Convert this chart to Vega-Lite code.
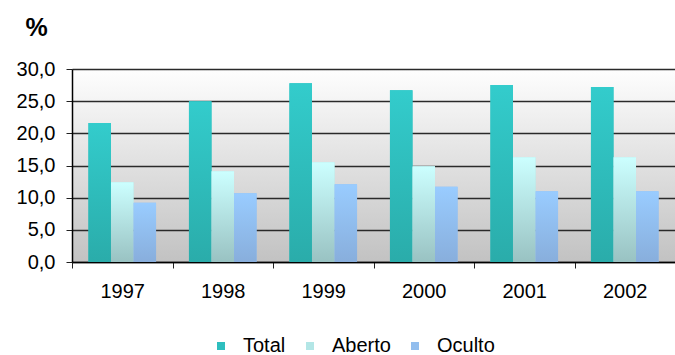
{
  "$schema": "https://vega.github.io/schema/vega-lite/v6.json",
  "width": 603,
  "height": 193,
  "autosize": {"type": "none"},
  "padding": {"left": 72, "top": 69, "right": 0, "bottom": 93},
  "background": "white",
  "config": {
    "font": "Liberation Sans",
    "view": {
      "stroke": null,
      "fill": {"gradient": "linear", "x1": 0, "y1": 0, "x2": 0, "y2": 1,
        "stops": [{"offset": 0, "color": "#FEFEFE"}, {"offset": 1, "color": "#C2C2C2"}]}
    }
  },
  "data": {
    "values": [
      {"year": "1997", "series": "Total", "value": 21.6},
      {"year": "1997", "series": "Aberto", "value": 12.4},
      {"year": "1997", "series": "Oculto", "value": 9.2},
      {"year": "1998", "series": "Total", "value": 25.0},
      {"year": "1998", "series": "Aberto", "value": 14.1},
      {"year": "1998", "series": "Oculto", "value": 10.7},
      {"year": "1999", "series": "Total", "value": 27.8},
      {"year": "1999", "series": "Aberto", "value": 15.5},
      {"year": "1999", "series": "Oculto", "value": 12.1},
      {"year": "2000", "series": "Total", "value": 26.7},
      {"year": "2000", "series": "Aberto", "value": 14.9},
      {"year": "2000", "series": "Oculto", "value": 11.7},
      {"year": "2001", "series": "Total", "value": 27.5},
      {"year": "2001", "series": "Aberto", "value": 16.3},
      {"year": "2001", "series": "Oculto", "value": 11.0},
      {"year": "2002", "series": "Total", "value": 27.2},
      {"year": "2002", "series": "Aberto", "value": 16.3},
      {"year": "2002", "series": "Oculto", "value": 11.0}
    ]
  },
  "encoding": {
    "x": {
      "field": "year", "type": "nominal",
      "scale": {"paddingInner": 0, "paddingOuter": 0},
      "axis": {
        "title": null, "labelAngle": 0, "labelFontSize": 20, "labelColor": "black",
        "domainColor": "black", "domainWidth": 1.5, "tickColor": "#222", "tickSize": 6,
        "tickBand": "extent", "labelPadding": 13, "grid": false
      }
    },
    "xOffset": {
      "field": "series", "type": "nominal", "sort": ["Total", "Aberto", "Oculto"],
      "scale": {"paddingInner": 0, "paddingOuter": 0.73}
    },
    "y": {
      "field": "value", "type": "quantitative",
      "scale": {"domain": [0, 30], "nice": false},
      "axis": {
        "values": [0, 5, 10, 15, 20, 25, 30],
        "labelExpr": "replace(format(datum.value, '.1f'), '.', ',')",
        "labelFontSize": 20, "labelColor": "black", "labelPadding": 11,
        "tickSize": 6, "tickColor": "#222", "domainColor": "black", "domainWidth": 1.5,
        "grid": true, "gridColor": "#2A2A2A", "gridWidth": 1.3, "gridOpacity": 1,
        "title": "%", "titleAngle": 0, "titleX": -47, "titleY": -34,
        "titleAlign": "left", "titleBaseline": "alphabetic",
        "titleFontSize": 25, "titleFontWeight": "bold", "titleColor": "black"
      }
    }
  },
  "layer": [
    {
      "mark": {"type": "bar"},
      "encoding": {
        "color": {
          "field": "series", "type": "nominal",
          "scale": {"domain": ["Total", "Aberto", "Oculto"], "range": ["#2EBEBE", "#B3E6E6", "#92BEEE"]},
          "legend": {
            "title": null, "orient": "none", "direction": "horizontal",
            "legendX": 139, "legendY": 267,
            "symbolType": "square", "symbolSize": 64, "symbolStrokeWidth": 0,
            "labelFontSize": 20, "labelColor": "black", "labelOffset": 12, "columnPadding": 14
          }
        }
      }
    },
    {
      "transform": [{"filter": "datum.series === 'Total'"}],
      "mark": {"type": "bar", "color": {"gradient": "linear", "x1": 0, "y1": 0, "x2": 0, "y2": 1,
        "stops": [{"offset": 0, "color": "#33CCCC"}, {"offset": 1, "color": "#2AACAA"}]}}
    },
    {
      "transform": [{"filter": "datum.series === 'Aberto'"}],
      "mark": {"type": "bar", "color": {"gradient": "linear", "x1": 0, "y1": 0, "x2": 0, "y2": 1,
        "stops": [{"offset": 0, "color": "#CCFFFF"}, {"offset": 1, "color": "#99C2C2"}]}}
    },
    {
      "transform": [{"filter": "datum.series === 'Oculto'"}],
      "mark": {"type": "bar", "color": {"gradient": "linear", "x1": 0, "y1": 0, "x2": 0, "y2": 1,
        "stops": [{"offset": 0, "color": "#99CCFF"}, {"offset": 1, "color": "#88AEDC"}]}}
    }
  ]
}
